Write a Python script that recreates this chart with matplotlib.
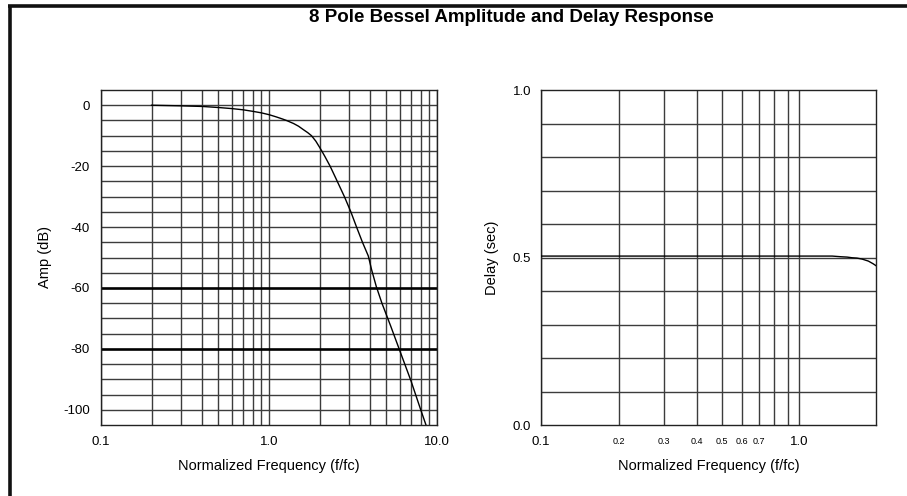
import numpy as np
from matplotlib import pyplot as plt
from matplotlib.lines import Line2D
from matplotlib.ticker import NullFormatter

plt.rcParams['font.family'] = ['Liberation Sans', 'DejaVu Sans']
plt.rcParams['axes.unicode_minus'] = False

# amplitude response
amp_freq = [0.2, 0.3, 0.4, 0.5, 0.6, 0.7, 0.8, 0.9, 1.0, 1.1, 1.2, 1.27, 1.4, 1.5, 1.6, 1.7,
            1.79, 1.9, 2.0, 2.06, 2.15, 2.31, 2.5, 2.65, 2.81, 3.07, 3.32, 3.6, 3.9, 4.08,
            4.35, 4.7, 5.3, 5.95, 7.0, 8.0, 8.6]
amp_db = [0.0, -0.2, -0.4, -0.75, -1.1, -1.5, -2.0, -2.5, -3.1, -3.8, -4.5, -5.0, -6.0, -6.9, -8.0, -9.0,
          -10.0, -11.8, -13.8, -15.0, -16.8, -20.0, -24.0, -27.0, -30.0, -35.0, -40.0, -45.0, -49.5, -54.0,
          -59.5, -65.0, -72.5, -80.0, -90.5, -100.0, -105.0]

# group delay
delay_freq = [0.1, 0.5, 1.0, 1.34, 1.45, 1.53, 1.6, 1.67, 1.75, 1.85, 1.93, 2.0]
delay_sec = [0.505, 0.505, 0.505, 0.505, 0.503, 0.502, 0.500, 0.499, 0.496, 0.490, 0.482, 0.474]

amp_major = [0.1, 1.0, 10.0]
amp_major_labels = ['0.1', '1.0', '10.0']
amp_minor = [0.2, 0.3, 0.4, 0.5, 0.6, 0.7, 0.8, 0.9, 2, 3, 4, 5, 6, 7, 8, 9]
amp_yticks = [0, -20, -40, -60, -80, -100]
amp_ygrid = list(range(-100, 5, 5))
amp_bold = [-60, -80]

delay_major = [0.1, 1.0]
delay_major_labels = ['0.1', '1.0']
delay_minor = [0.2, 0.3, 0.4, 0.5, 0.6, 0.7, 0.8, 0.9]
delay_minor_labels = ['0.2', '0.3', '0.4', '0.5', '0.6', '0.7', '', '']
delay_yticks = [0.0, 0.5, 1.0]
delay_ygrid = [0.1 * i for i in range(1, 10)]

W, H = 907, 496
fig = plt.figure(figsize=(W / 100, H / 100), dpi=100)
fig.patch.set_facecolor('white')

grid_col = '#3c3c3c'


def ax_rect(x0, y0, x1, y1):
    return [x0 / W, 1 - y1 / H, (x1 - x0) / W, (y1 - y0) / H]


def style(ax):
    for s in ax.spines.values():
        s.set_color('#222222')
        s.set_linewidth(1.0)
    ax.tick_params(which='both', length=0, pad=8, labelsize=9.5)
    ax.set_axisbelow(True)


# amplitude
ax1 = fig.add_axes(ax_rect(101, 90, 437, 425))
ax1.set_xscale('log')
ax1.set_xlim(0.1, 10.0)
ax1.set_ylim(-105, 5)
ax1.set_xticks(amp_major)
ax1.set_xticklabels(amp_major_labels)
ax1.set_xticks(amp_minor, minor=True)
ax1.xaxis.set_minor_formatter(NullFormatter())
ax1.set_yticks(amp_yticks)
for v in amp_major + amp_minor:
    ax1.axvline(v, color=grid_col, lw=1.0, zorder=1)
for v in amp_ygrid:
    bold = v in amp_bold
    ax1.axhline(v, color='black' if bold else grid_col, lw=1.9 if bold else 1.0, zorder=1)
ax1.plot(amp_freq, amp_db, color='black', lw=1.0, zorder=3)
style(ax1)
ax1.tick_params(axis='x', pad=8)
ax1.set_ylabel('Amp (dB)', fontsize=10.5, labelpad=8)
ax1.set_xlabel('Normalized Frequency (f/fc)', fontsize=10.5, labelpad=8)

# delay
ax2 = fig.add_axes(ax_rect(541, 90.5, 876, 425))
ax2.set_xscale('log')
ax2.set_xlim(0.1, 1.98)
ax2.set_ylim(0.0, 1.0)
ax2.set_xticks(delay_major)
ax2.set_xticklabels(delay_major_labels)
ax2.set_xticks(delay_minor, minor=True)
ax2.set_xticklabels(delay_minor_labels, minor=True)
ax2.set_yticks(delay_yticks)
ax2.set_yticklabels(['0.0', '0.5', '1.0'])
for v in delay_major + delay_minor:
    ax2.axvline(v, color=grid_col, lw=1.0, zorder=1)
for v in delay_ygrid:
    ax2.axhline(v, color=grid_col, lw=1.0, zorder=1)
ax2.plot(delay_freq, delay_sec, color='black', lw=1.0, zorder=3)
style(ax2)
ax2.tick_params(axis='x', which='major', pad=8)
ax2.tick_params(axis='x', which='minor', pad=9, labelsize=6.5)
ax2.tick_params(axis='y', pad=7)
ax2.set_ylabel('Delay (sec)', fontsize=10.5, labelpad=10)
ax2.set_xlabel('Normalized Frequency (f/fc)', fontsize=10.5, labelpad=8)

fig.text(511 / W, 1 - 18 / H, '8 Pole Bessel Amplitude and Delay Response',
         ha='center', va='center', fontsize=13.5, fontweight='bold')

# page border on the left and top edges
fig.add_artist(Line2D([10 / W, 10 / W], [0, 1 - 6 / H], color='#111111', lw=2.6,
                      transform=fig.transFigure, solid_capstyle='butt'))
fig.add_artist(Line2D([8.2 / W, 1], [1 - 6 / H, 1 - 6 / H], color='#111111', lw=2.6,
                      transform=fig.transFigure, solid_capstyle='butt'))

fig.savefig('out.png', dpi=100, facecolor='white')
